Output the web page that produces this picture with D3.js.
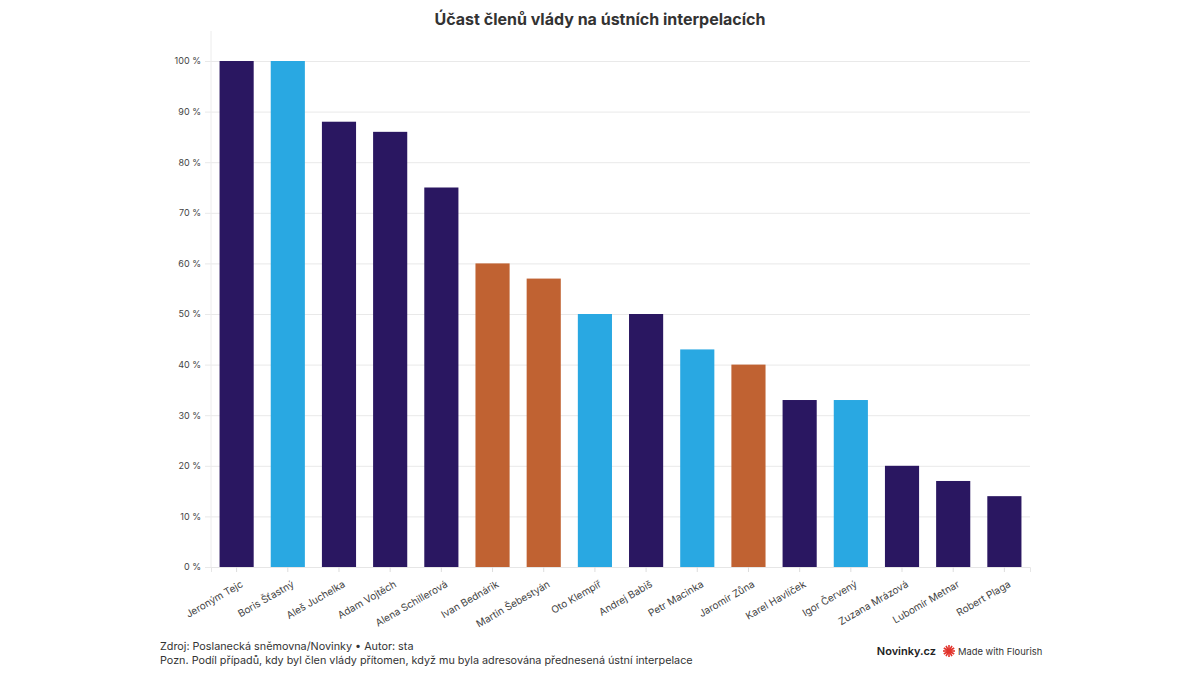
<!DOCTYPE html>
<html lang="cs">
<head>
  <meta charset="utf-8">
  <title>Účast členů vlády na ústních interpelacích</title>
  <script src="https://d3js.org/d3.v7.min.js"></script>
  <style>
    body { margin: 0; background: #fff; }
    svg text { font-family: Inter, Roboto, "Noto Sans", sans-serif; }
  </style>
</head>
<body>
  <div id="chart"></div>

  <script>
    "use strict"

    // data
    var jmena = ["Jeroným Tejc", "Boris Šťastný", "Aleš Juchelka", "Adam Vojtěch", "Alena Schillerová",
                 "Ivan Bednárik", "Martin Šebestyán", "Oto Klempíř", "Andrej Babiš", "Petr Macinka",
                 "Jaromír Zůna", "Karel Havlíček", "Igor Červený", "Zuzana Mrázová", "Lubomír Metnar", "Robert Plaga"];
    var ucast = [100, 100, 88, 86, 75, 60, 57, 50, 50, 43, 40, 33, 33, 20, 17, 14];
    var strany = ["ANO", "Motoristé", "ANO", "ANO", "ANO", "SPD", "SPD", "Motoristé", "ANO", "Motoristé",
                  "SPD", "ANO", "Motoristé", "ANO", "ANO", "ANO"];
    var yTicks = [0, 10, 20, 30, 40, 50, 60, 70, 80, 90, 100];

    var dados = jmena.map((j, i) => ({ jmeno: j, hodnota: ucast[i], strana: strany[i] }));

    var larguraSVG = 1200, alturaSVG = 675;
    var margin = { top: 61, right: 170, bottom: 108, left: 211 },
        larguraVis = larguraSVG - margin.left - margin.right,
        alturaVis = alturaSVG - margin.top - margin.bottom;

    var svg = d3.select('#chart').append('svg')
        .attr('width', larguraSVG)
        .attr('height', alturaSVG);

    // titulek
    svg.append('text')
        .attr('x', 600).attr('y', 25)
        .attr('text-anchor', 'middle')
        .style('font-size', '16px').style('font-weight', 700)
        .style('fill', '#333')
        .text('Účast členů vlády na ústních interpelacích');

    var grafico = svg.append('g')
        .attr('transform', 'translate(' + margin.left + ',' + margin.top + ')');

    // escalas
    var x = d3.scaleBand()
        .domain(jmena)
        .range([0, larguraVis])
        .paddingInner(0.333)
        .paddingOuter(0.167);

    var y = d3.scaleLinear()
        .domain([0, 100])
        .range([alturaVis, 0]);

    var cor = d3.scaleOrdinal()
        .domain(["ANO", "Motoristé", "SPD"])
        .range(["#2a1761", "#29a8e2", "#c06232"]);

    // grid + osa y
    var eixoY = grafico.append('g')
        .call(d3.axisLeft(y).tickValues(yTicks).tickFormat(d => d + ' %').tickSize(-larguraVis - 6).tickPadding(10))
        .attr('transform', 'translate(0,0)');
    eixoY.select('.domain').remove();
    eixoY.selectAll('.tick line').attr('x1', -6).attr('x2', larguraVis).attr('stroke', '#e9e9e9');
    eixoY.selectAll('.tick text').style('font-size', '9px').style('fill', '#444');

    grafico.append('line')
        .attr('x1', 0).attr('x2', 0)
        .attr('y1', -30).attr('y2', alturaVis)
        .attr('stroke', '#ececec');

    // sloupce
    grafico.selectAll('rect.bar')
        .data(dados)
        .enter()
        .append('rect')
          .attr('class', 'bar')
          .attr('x', d => x(d.jmeno))
          .attr('y', d => y(d.hodnota))
          .attr('width', x.bandwidth())
          .attr('height', d => alturaVis - y(d.hodnota))
          .style('fill', d => cor(d.strana));

    // osa x
    var eixoX = grafico.append('g')
        .attr('transform', 'translate(0,' + alturaVis + ')')
        .call(d3.axisBottom(x).tickSize(5).tickPadding(6));
    eixoX.select('.domain').attr('stroke', '#e6e6e6');
    eixoX.selectAll('.tick line').attr('stroke', '#dddddd');
    eixoX.selectAll('.tick text')
        .attr('text-anchor', 'end')
        .attr('transform', 'translate(4,14) rotate(-30)')
        .attr('dy', 0).attr('y', 6)
        .style('font-size', '10px').style('fill', '#444');

    // zápatí
    var pata = svg.append('g').style('fill', '#333');
    pata.append('text').attr('x', 160).attr('y', 650)
        .style('font-size', '10.8px')
        .text('Zdroj: Poslanecká sněmovna/Novinky • Autor: sta');
    pata.append('text').attr('x', 160).attr('y', 664)
        .style('font-size', '10.8px')
        .text('Pozn. Podíl případů, kdy byl člen vlády přítomen, když mu byla adresována přednesená ústní interpelace');

    svg.append('text').attr('x', 936).attr('y', 655)
        .attr('text-anchor', 'end')
        .style('font-size', '11px').style('font-weight', 600).style('fill', '#222')
        .text('Novinky.cz');

    // logo Flourish
    var logo = svg.append('g').attr('transform', 'translate(949,651)');
    d3.range(12).forEach(function(i) {
      var a = i * Math.PI / 6;
      logo.append('line')
        .attr('x1', 0).attr('y1', 0)
        .attr('x2', 6 * Math.cos(a)).attr('y2', 6 * Math.sin(a))
        .attr('stroke', '#e2342c').attr('stroke-width', 1.6);
    });
    logo.append('circle').attr('r', 2.5).attr('fill', '#e2342c');

    svg.append('text').attr('x', 958).attr('y', 655)
        .style('font-size', '9.4px').style('fill', '#333')
        .text('Made with Flourish');
  </script>
</body>
</html>
